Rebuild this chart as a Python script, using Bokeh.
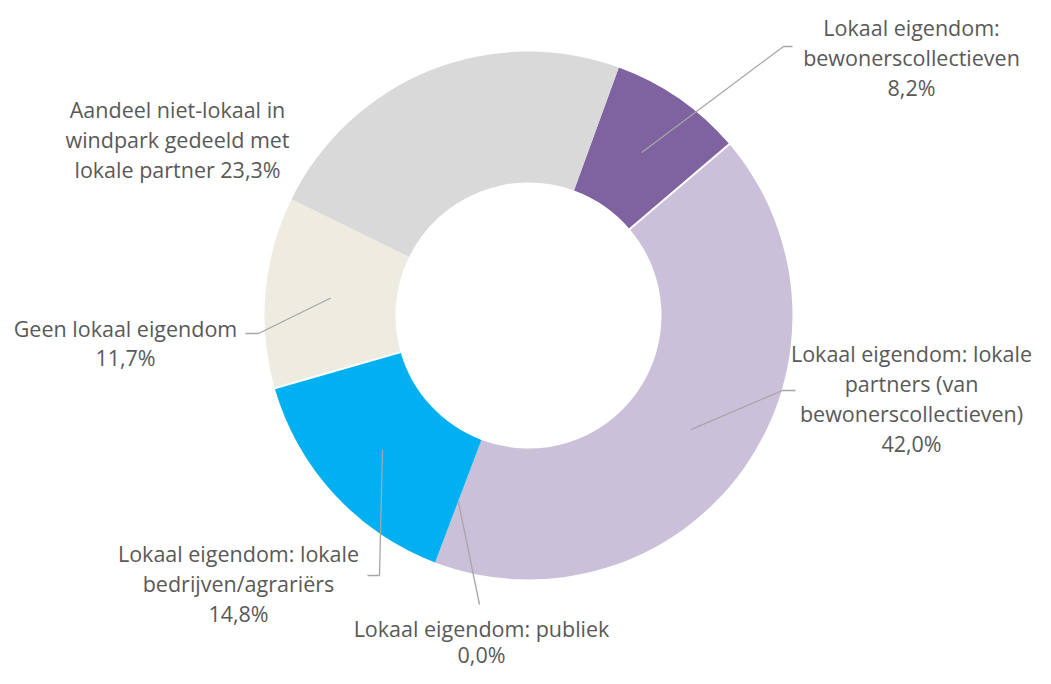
import math
from bokeh.plotting import figure
from bokeh.models import Range1d
from bokeh.core.properties import value
from bokeh.embed import file_html
from bokeh.resources import INLINE

# ---- data ----
categories = [
    "Lokaal eigendom: bewonerscollectieven",
    "Lokaal eigendom: lokale partners (van bewonerscollectieven)",
    "Lokaal eigendom: publiek",
    "Lokaal eigendom: lokale bedrijven/agrariërs",
    "Geen lokaal eigendom",
    "Aandeel niet-lokaal in windpark gedeeld met lokale partner",
]
values = [8.2, 42.0, 0.0, 14.8, 11.7, 23.3]
label_lines = [
    ["Lokaal eigendom:", "bewonerscollectieven"],
    ["Lokaal eigendom: lokale", "partners (van", "bewonerscollectieven)"],
    ["Lokaal eigendom: publiek"],
    ["Lokaal eigendom: lokale", "bedrijven/agrariërs"],
    ["Geen lokaal eigendom"],
    ["Aandeel niet-lokaal in", "windpark gedeeld met", "lokale partner"],
]
colors = ["#7F63A1", "#CBC0DA", "#4F81BD", "#00B0F0", "#EEECE1", "#D9D9D9"]

# ---- layout (image pixel coordinates) ----
W, H = 1035, 668
def X(x): return x
def Y(y): return H - y

CX, CY = 528, 315
R_OUT, R_IN = 264, 133
FIRST_ANGLE = 20.0  # degrees clockwise from 12 o'clock

TEXT_COLOR = "#595959"
LEADER_COLOR = "#A6A6A6"
FONT = "Open Sans"
FSIZE = "21.5px"

# label layout: center x, baselines for each line
label_pos = [
    (911, [27, 57, 87], False),
    (911, [353, 383, 413, 443], False),
    (481, [628, 654], False),
    (238, [553, 583, 613], False),
    (125, [328, 357], False),
    (177, [109, 139, 169], True),   # value inline on last line
]
# leader lines: bend point and end point (None if no leader)
leaders = [
    ((783, 46), (792, 46)),
    ((782, 390), (795, 390)),
    (None, (479, 604)),
    ((379, 575), (367, 575)),
    ((258, 333), (245, 333)),
    None,
]

p = figure(width=W, height=H, x_range=Range1d(0, W), y_range=Range1d(0, H),
           output_backend="svg", toolbar_location=None,
           x_axis_location=None, y_axis_location=None, min_border=0)
p.grid.visible = False
p.outline_line_color = None
p.background_fill_color = "white"
p.border_fill_color = "white"

total = sum(values)
cum = FIRST_ANGLE
starts, ends, mids = [], [], []
for v in values:
    a0 = cum
    a1 = cum + v / total * 360.0
    starts.append(a0)
    ends.append(a1)
    mids.append((a0 + a1) / 2)
    cum = a1

def std(a):
    return math.radians(90.0 - a)

ws, we, wc = [], [], []
for a0, a1, c, v in zip(starts, ends, colors, values):
    if v > 0:
        ws.append(std(a0)); we.append(std(a1)); wc.append(c)

p.annular_wedge(x=[X(CX)] * len(ws), y=[Y(CY)] * len(ws),
                inner_radius=R_IN, outer_radius=R_OUT,
                start_angle=ws, end_angle=we, direction="clock",
                fill_color=wc, line_color=None)

# white separators at two boundaries
for idx in (1, 4):
    a = std(starts[idx])
    x0 = X(CX) + (R_IN - 1) * math.cos(a); y0 = Y(CY) + (R_IN - 1) * math.sin(a)
    x1 = X(CX) + (R_OUT + 1) * math.cos(a); y1 = Y(CY) + (R_OUT + 1) * math.sin(a)
    p.line([x0, x1], [y0, y1], line_color="white", line_width=2)

# leader lines
RM = (R_OUT + R_IN) / 2
for i, ld in enumerate(leaders):
    if ld is None:
        continue
    a = std(mids[i])
    xs = [X(CX) + RM * math.cos(a)]
    ys = [Y(CY) + RM * math.sin(a)]
    bend, end = ld
    if bend is not None:
        xs.append(X(bend[0])); ys.append(Y(bend[1]))
    xs.append(X(end[0])); ys.append(Y(end[1]))
    p.line(xs, ys, line_color=LEADER_COLOR, line_width=1.3)

# labels
tx, ty, tt = [], [], []
for i, (cx, bases, inline) in enumerate(label_pos):
    vtxt = f"{values[i]:.1f}".replace(".", ",") + "%"
    lines = list(label_lines[i])
    if inline:
        lines[-1] = lines[-1] + " " + vtxt
    else:
        lines.append(vtxt)
    for ln, b in zip(lines, bases):
        tx.append(X(cx)); ty.append(Y(b)); tt.append(ln)

p.text(x=tx, y=ty, text=tt, text_align="center", text_baseline="alphabetic",
       text_font=value(FONT), text_font_size=FSIZE, text_color=TEXT_COLOR)

open("out.html", "w").write(file_html(p, INLINE))
